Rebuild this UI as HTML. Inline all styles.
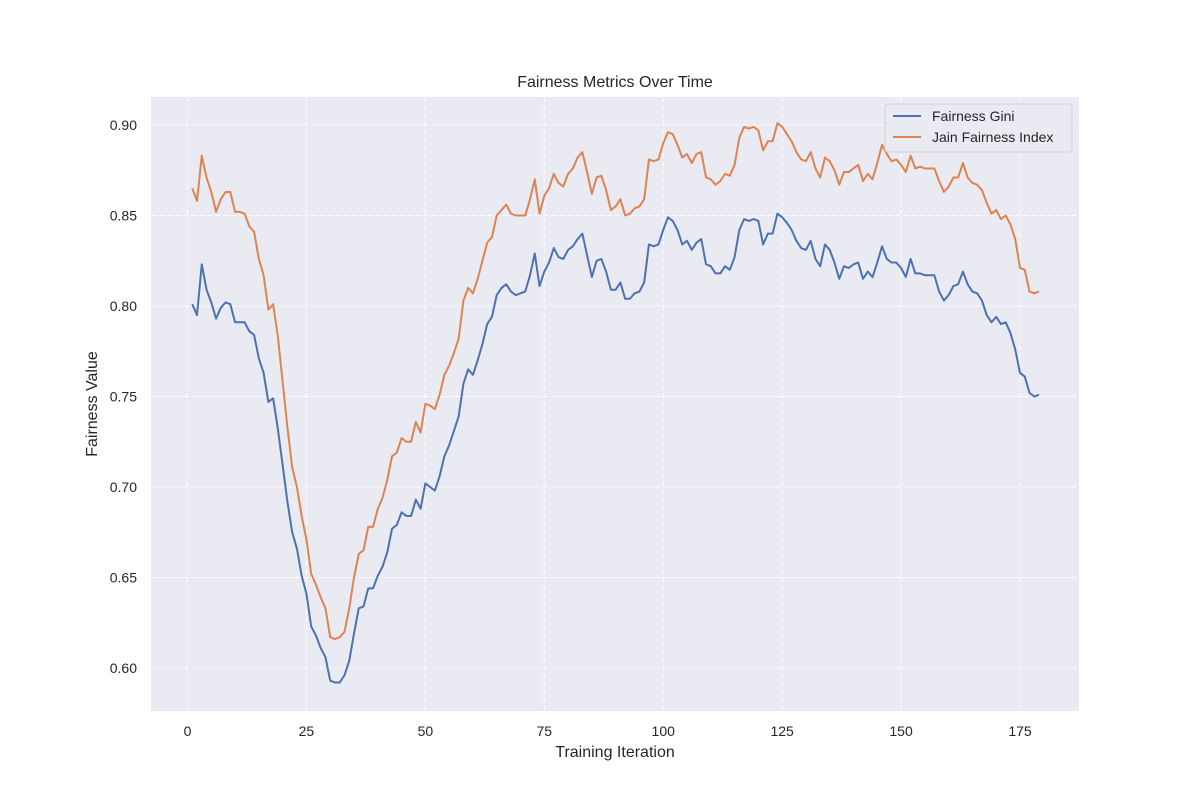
<!DOCTYPE html>
<html><head><meta charset="utf-8"><style>
body{margin:0;background:#fff;}
svg text{font-family:"Liberation Sans","DejaVu Sans",sans-serif;fill:#262626;}
</style></head><body>
<svg id="chart" width="1200" height="800" xmlns="http://www.w3.org/2000/svg">
<rect x="151" y="97" width="928" height="614" fill="#eaeaf2"/>
<g id="grid"></g><g id="ticks"></g><g id="series"></g>
<text x="615" y="87" font-size="16" text-anchor="middle">Fairness Metrics Over Time</text>
<text x="615" y="757" font-size="16" text-anchor="middle">Training Iteration</text>
<text x="97" y="404" font-size="16" text-anchor="middle" transform="rotate(-90 97 404)">Fairness Value</text>
<g>
<rect x="885" y="104" width="187" height="48" rx="3" fill="#eaeaf2" stroke="#d0d0d8" stroke-width="1"/>
<line x1="893" y1="116" x2="921" y2="116" stroke="#4c72b0" stroke-width="2"/>
<text x="932" y="121" font-size="14">Fairness Gini</text>
<line x1="893" y1="137" x2="921" y2="137" stroke="#dd8452" stroke-width="2"/>
<text x="932" y="142" font-size="14">Jain Fairness Index</text>
</g>
</svg>
<script>
const xTicks=[0,25,50,75,100,125,150,175];
const yTicks=[0.60,0.65,0.70,0.75,0.80,0.85,0.90];
const yTickLabels=["0.60","0.65","0.70","0.75","0.80","0.85","0.90"];
const gini=[0.801,0.795,0.823,0.809,0.802,0.793,0.799,0.802,0.801,0.791,0.791,0.791,0.786,0.784,0.771,0.763,0.747,0.749,0.732,0.712,0.692,0.675,0.666,0.651,0.641,0.623,0.618,0.611,0.606,0.593,0.592,0.592,0.596,0.604,0.619,0.633,0.634,0.644,0.644,0.651,0.656,0.664,0.677,0.679,0.686,0.684,0.684,0.693,0.688,0.702,0.700,0.698,0.706,0.717,0.723,0.731,0.739,0.757,0.765,0.762,0.770,0.779,0.790,0.794,0.806,0.810,0.812,0.808,0.806,0.807,0.808,0.817,0.829,0.811,0.819,0.824,0.832,0.827,0.826,0.831,0.833,0.837,0.840,0.828,0.816,0.825,0.826,0.819,0.809,0.809,0.813,0.804,0.804,0.807,0.808,0.813,0.834,0.833,0.834,0.842,0.849,0.847,0.842,0.834,0.836,0.831,0.835,0.837,0.823,0.822,0.818,0.818,0.822,0.820,0.827,0.842,0.848,0.847,0.848,0.847,0.834,0.840,0.840,0.851,0.849,0.846,0.842,0.836,0.832,0.831,0.836,0.826,0.822,0.834,0.831,0.824,0.815,0.822,0.821,0.823,0.824,0.815,0.819,0.816,0.824,0.833,0.826,0.824,0.824,0.821,0.816,0.826,0.818,0.818,0.817,0.817,0.817,0.808,0.803,0.806,0.811,0.812,0.819,0.812,0.808,0.807,0.803,0.795,0.791,0.794,0.790,0.791,0.785,0.776,0.763,0.761,0.752,0.750,0.751];
const jain=[0.865,0.858,0.883,0.871,0.863,0.852,0.859,0.863,0.863,0.852,0.852,0.851,0.844,0.841,0.826,0.817,0.798,0.801,0.783,0.758,0.733,0.711,0.700,0.684,0.671,0.652,0.646,0.639,0.633,0.617,0.616,0.617,0.620,0.633,0.650,0.663,0.665,0.678,0.678,0.688,0.694,0.704,0.717,0.719,0.727,0.725,0.725,0.736,0.730,0.746,0.745,0.743,0.751,0.762,0.767,0.774,0.782,0.803,0.810,0.807,0.815,0.825,0.835,0.838,0.850,0.853,0.856,0.851,0.850,0.850,0.850,0.859,0.870,0.851,0.861,0.865,0.873,0.868,0.866,0.873,0.876,0.882,0.885,0.874,0.862,0.871,0.872,0.864,0.853,0.855,0.859,0.850,0.851,0.854,0.855,0.859,0.881,0.880,0.881,0.890,0.896,0.895,0.889,0.882,0.884,0.879,0.884,0.885,0.871,0.870,0.867,0.869,0.873,0.872,0.878,0.893,0.899,0.898,0.899,0.897,0.886,0.891,0.891,0.901,0.899,0.895,0.891,0.885,0.881,0.880,0.885,0.876,0.871,0.882,0.880,0.875,0.867,0.874,0.874,0.876,0.878,0.869,0.873,0.870,0.879,0.889,0.884,0.880,0.881,0.878,0.874,0.883,0.876,0.877,0.876,0.876,0.876,0.869,0.863,0.866,0.871,0.871,0.879,0.871,0.868,0.867,0.864,0.857,0.851,0.853,0.848,0.850,0.845,0.837,0.821,0.820,0.808,0.807,0.808];
const NS="http://www.w3.org/2000/svg";
function xs(v){return 187.5+v*(1020-187.5)/175;}
function ys(v){return 125+(0.90-v)*(668-125)/0.30;}
function mk(tag,attrs,parent){const e=document.createElementNS(NS,tag);for(const k in attrs)e.setAttribute(k,attrs[k]);document.getElementById(parent).appendChild(e);return e;}
xTicks.forEach(t=>{
  const g=mk('line',{x1:xs(t),x2:xs(t),y1:97,y2:711,stroke:'#fff','stroke-width':1,'stroke-dasharray':'5,3'},'grid');
  
  
  const l=mk('text',{x:xs(t),y:736,'font-size':14,'text-anchor':'middle'},'ticks');
  l.textContent=String(t);
  
  
});
yTicks.forEach((t,i)=>{
  const g=mk('line',{x1:151,x2:1079,y1:ys(t),y2:ys(t),stroke:'#fff','stroke-width':1,'stroke-dasharray':'5,3'},'grid');
  
  
  const l=mk('text',{x:137,y:ys(t)+5,'font-size':14,'text-anchor':'end'},'ticks');
  l.textContent=yTickLabels[i];
  
  
});
function path(arr,color,name){
  const d=arr.map((v,i)=>(i?'L':'M')+xs(i+1).toFixed(2)+','+ys(v).toFixed(2)).join(' ');
  const p=mk('path',{d:d,fill:'none',stroke:color,'stroke-width':2,'stroke-linejoin':'round'},'series');
  
  
}
path(gini,'#4c72b0','gini-line');
path(jain,'#dd8452','jain-line');
</script>
</body></html>
